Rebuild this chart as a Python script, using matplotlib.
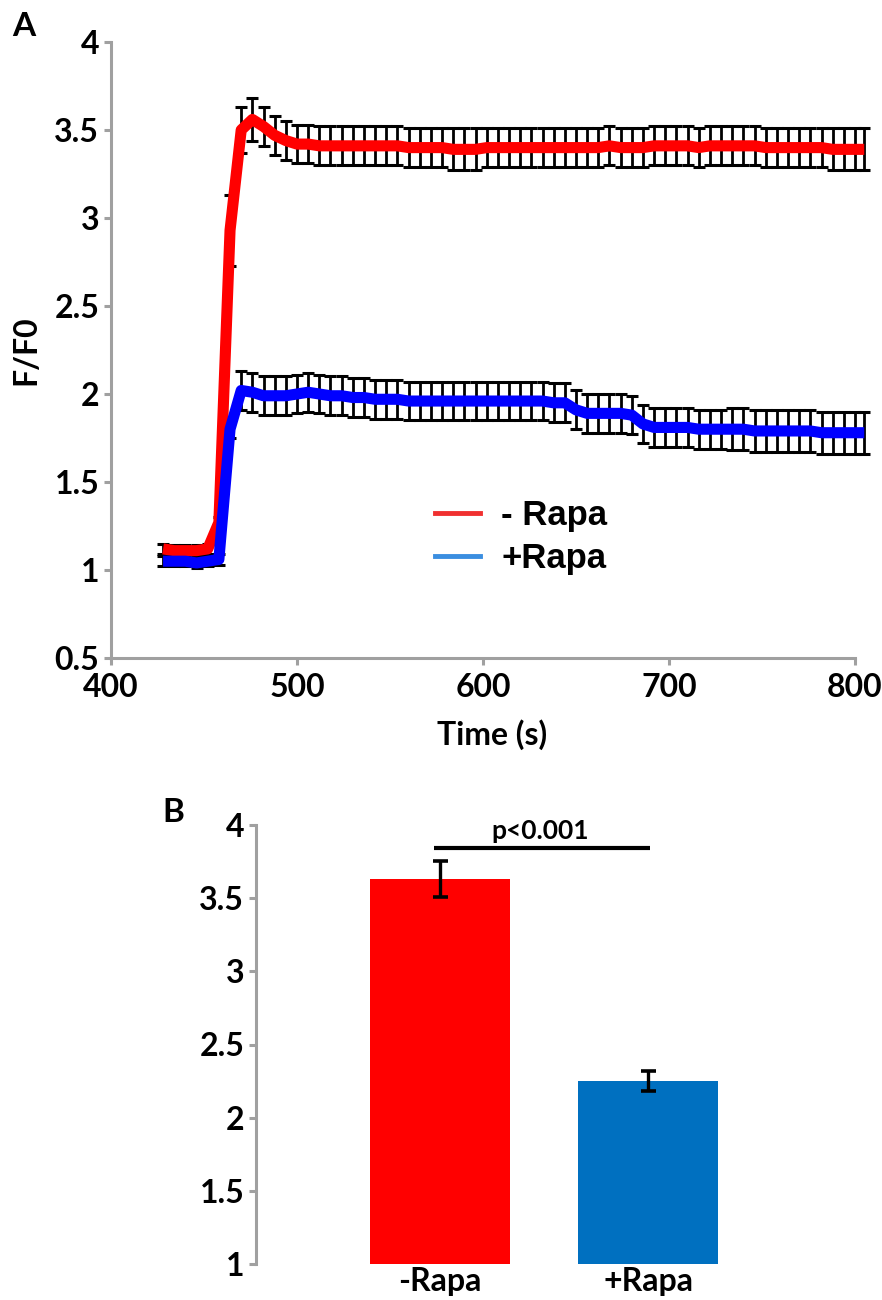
import numpy as np
import matplotlib
matplotlib.use("Agg")
import matplotlib.pyplot as plt
from matplotlib.lines import Line2D

# panel A: time course (s) and F/F0, mean +/- SEM
time_s = [428, 434, 440, 446, 452, 458, 464, 470, 476, 482, 488, 494, 500, 506, 512, 518,
          524, 530, 536, 542, 548, 554, 560, 566, 572, 578, 584, 590, 596, 602, 608, 614,
          620, 626, 632, 638, 644, 650, 656, 662, 668, 674, 680, 686, 692, 698, 704, 710,
          716, 722, 728, 734, 740, 746, 752, 758, 764, 770, 776, 782, 788, 794, 800, 805]

minus_rapa = [1.12, 1.11, 1.11, 1.11, 1.12, 1.27, 2.93, 3.50, 3.56, 3.52, 3.47, 3.44, 3.42, 3.42, 3.41, 3.41,
              3.41, 3.41, 3.41, 3.41, 3.41, 3.41, 3.40, 3.40, 3.40, 3.40, 3.39, 3.39, 3.39, 3.40, 3.40, 3.40,
              3.40, 3.40, 3.40, 3.40, 3.40, 3.40, 3.40, 3.40, 3.41, 3.40, 3.40, 3.40, 3.41, 3.41, 3.41, 3.41,
              3.40, 3.41, 3.41, 3.41, 3.41, 3.41, 3.40, 3.40, 3.40, 3.40, 3.40, 3.40, 3.39, 3.39, 3.39, 3.39]
minus_err = [0.03, 0.03, 0.03, 0.03, 0.03, 0.03, 0.20, 0.13, 0.12, 0.11, 0.11, 0.11, 0.11, 0.11, 0.11, 0.11,
             0.11, 0.11, 0.11, 0.11, 0.11, 0.11, 0.11, 0.11, 0.11, 0.11, 0.12, 0.12, 0.12, 0.11, 0.11, 0.11,
             0.11, 0.11, 0.11, 0.11, 0.11, 0.11, 0.11, 0.11, 0.11, 0.11, 0.11, 0.11, 0.11, 0.11, 0.11, 0.11,
             0.11, 0.11, 0.11, 0.11, 0.11, 0.11, 0.11, 0.11, 0.11, 0.11, 0.11, 0.11, 0.12, 0.12, 0.12, 0.12]

plus_rapa = [1.05, 1.05, 1.05, 1.04, 1.05, 1.06, 1.80, 2.02, 2.01, 1.99, 1.99, 1.99, 2.00, 2.01, 2.00, 1.99,
             1.99, 1.98, 1.98, 1.97, 1.97, 1.97, 1.96, 1.96, 1.96, 1.96, 1.96, 1.96, 1.96, 1.96, 1.96, 1.96,
             1.96, 1.96, 1.96, 1.95, 1.95, 1.91, 1.89, 1.89, 1.89, 1.89, 1.88, 1.83, 1.81, 1.81, 1.81, 1.81,
             1.80, 1.80, 1.80, 1.80, 1.80, 1.79, 1.79, 1.79, 1.79, 1.79, 1.79, 1.78, 1.78, 1.78, 1.78, 1.78]
plus_err = [0.03, 0.03, 0.03, 0.03, 0.03, 0.03, 0.05, 0.11, 0.11, 0.11, 0.11, 0.11, 0.11, 0.11, 0.11, 0.11,
            0.11, 0.11, 0.11, 0.11, 0.11, 0.11, 0.11, 0.11, 0.11, 0.11, 0.11, 0.11, 0.11, 0.11, 0.11, 0.11,
            0.11, 0.11, 0.11, 0.11, 0.11, 0.11, 0.11, 0.11, 0.11, 0.11, 0.11, 0.11, 0.11, 0.11, 0.11, 0.11,
            0.11, 0.11, 0.11, 0.12, 0.12, 0.12, 0.12, 0.12, 0.12, 0.12, 0.12, 0.12, 0.12, 0.12, 0.12, 0.12]

# panel B: peak F/F0
bar_labels = ["-Rapa", "+Rapa"]
bar_values = [3.63, 2.25]
bar_errors = [0.125, 0.07]
p_text = "p<0.001"
sig_y = 3.84

FONT = "Lato"
GRAY = "#a0a0a0"

fig = plt.figure(figsize=(8.82, 13.0), dpi=100)

# ---------------- panel A ----------------
axA = fig.add_axes([111 / 882, 1 - 658 / 1300, (873.6 - 111) / 882, (658 - 42) / 1300])
for mean, err in ((minus_rapa, minus_err), (plus_rapa, plus_err)):
    axA.errorbar(time_s, mean, yerr=err, fmt="none", ecolor="black",
                 elinewidth=2.0, capsize=4.2, capthick=2.2, zorder=2)
axA.plot(time_s, minus_rapa, color="#ff0000", lw=8, solid_capstyle="butt",
         solid_joinstyle="round", zorder=3)
axA.plot(time_s, plus_rapa, color="#0000ff", lw=8, solid_capstyle="butt",
         solid_joinstyle="round", zorder=3)

axA.set_xlim(400, 810)
axA.set_ylim(0.5, 4)
axA.spines["bottom"].set_bounds(400, 800)
axA.set_xticks([400, 500, 600, 700, 800])
axA.set_yticks([0.5, 1, 1.5, 2, 2.5, 3, 3.5, 4])
axA.set_yticklabels(["0.5", "1", "1.5", "2", "2.5", "3", "3.5", "4"])
axA.set_xlabel("Time (s)", fontsize=23, fontweight="bold", family=FONT, labelpad=12)
axA.set_ylabel("F/F0", fontsize=23, fontweight="bold", family=FONT, labelpad=10)

handles = [Line2D([], [], color="#f03030", lw=3.5), Line2D([], [], color="#3a8ee0", lw=3.5)]
axA.legend(handles, ["- Rapa", "+Rapa"], loc="center left", bbox_to_anchor=(0.425, 0.196),
           frameon=False, borderpad=0, borderaxespad=0, handlelength=1.3, handletextpad=0.6,
           labelspacing=0.3, prop={"family": "Liberation Sans", "weight": "bold", "size": 25})

# ---------------- panel B ----------------
axB = fig.add_axes([256 / 882, 1 - 1264 / 1300, 544 / 882, (1264 - 825) / 1300])
xpos = np.arange(len(bar_labels))
axB.bar(xpos, bar_values, width=0.673, color=["#ff0000", "#0070c0"], zorder=1)
axB.errorbar(xpos, bar_values, yerr=bar_errors, fmt="none", ecolor="black",
             elinewidth=2.4, capsize=5.4, capthick=2.6, zorder=2)
axB.plot([xpos[0] - 0.03, xpos[1] + 0.01], [sig_y, sig_y], color="black", lw=3,
         solid_capstyle="butt", clip_on=False)
axB.text(xpos.mean() - 0.02, sig_y + 0.04, p_text, ha="center", va="bottom",
         fontsize=19, fontweight="bold", family=FONT)

axB.set_xlim(-0.885, 1.73)
axB.set_ylim(1, 4)
axB.set_xticks(xpos)
axB.set_xticklabels(bar_labels)
axB.set_yticks([1, 1.5, 2, 2.5, 3, 3.5, 4])
axB.set_yticklabels(["1", "1.5", "2", "2.5", "3", "3.5", "4"])
axB.spines["bottom"].set_visible(False)

for ax in (axA, axB):
    ax.spines["top"].set_visible(False)
    ax.spines["right"].set_visible(False)
    for s in ("left", "bottom"):
        ax.spines[s].set_color(GRAY)
        ax.spines[s].set_linewidth(2.2)
    ax.tick_params(color=GRAY, width=2.2, length=5)
    for lab in ax.get_xticklabels() + ax.get_yticklabels():
        lab.set_fontfamily(FONT)
        lab.set_fontweight("bold")
        lab.set_fontsize(23)
axB.tick_params(axis="x", length=0, pad=2)
axA.tick_params(axis="x", pad=6)

fig.text(12 / 882, 1 - 26 / 1300, "A", fontsize=24, fontweight="bold", family=FONT, va="center")
fig.text(162 / 882, 1 - 812 / 1300, "B", fontsize=24, fontweight="bold", family=FONT, va="center")

fig.savefig("out.png", dpi=100)
